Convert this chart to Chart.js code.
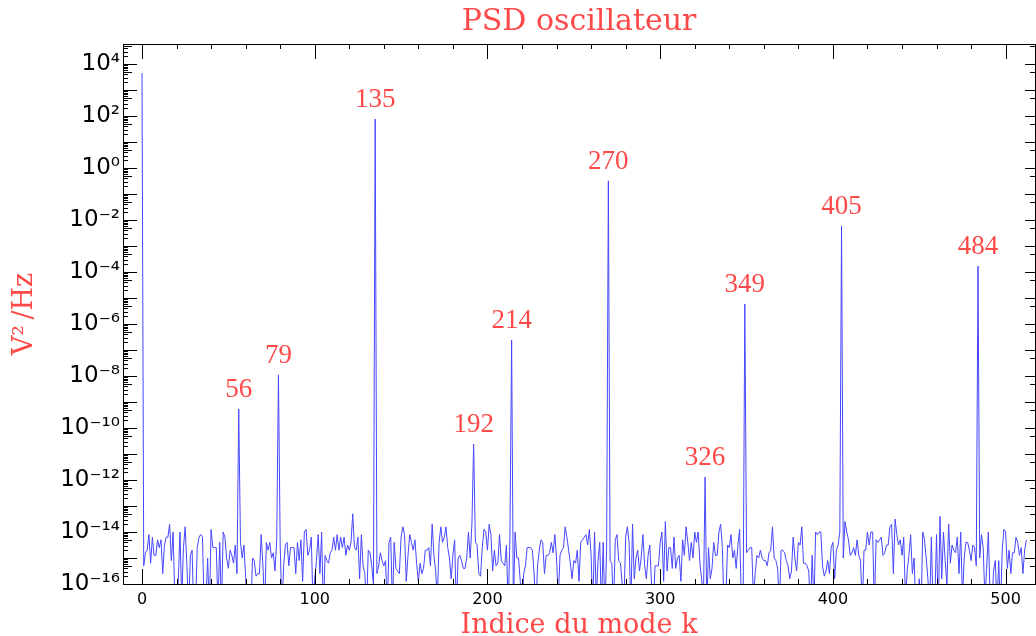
<!DOCTYPE html>
<html lang="fr">
  <head>
    <meta charset="UTF-8" />
    <title>PSD oscillateur</title>
    <script src="https://cdn.jsdelivr.net/npm/chart.js"></script>
    <style>
      html,
      body {
        margin: 0;
        padding: 0;
        background: #ffffff;
      }
      #psdChart {
        display: block;
      }
    </style>
  </head>
  <body>
    <canvas id="psdChart" width="1036" height="636"></canvas>

    <script>
      // Peaks: mode index k and PSD value (V^2/Hz)
      var peakK = [0, 56, 79, 135, 192, 214, 270, 326, 349, 405, 484];
      var peakVal = [4.5e3, 5.4e-10, 1.1e-8, 76, 2.4e-11, 2.4e-7, 0.32, 1.3e-12, 5.9e-6, 5.9e-3, 1.7e-4];
      var peakLabels = ["", "56", "79", "135", "192", "214", "270", "326", "349", "405", "484"];

      // Noise floor between the peaks, log10 of the PSD, k = 1..512 (peaks skipped)
      var noiseExp = [
        // k 1-55
        -15.3, -14.8, -14.7, -14.1, -15.2, -14.2, -14.9, -14.9, -14.3, -14.6,
        -14.3, -15.6, -14.5, -14.2, -14.2, -13.7, -15.1, -14.0, -16.6, -17.0,
        -15.9, -14.0, -16.6, -14.6, -13.8, -15.3, -17.0, -14.9, -14.7, -17.2,
        -16.8, -14.6, -14.2, -14.1, -14.2, -17.0, -16.7, -15.0, -17.1, -13.9,
        -14.6, -14.6, -14.6, -16.9, -14.4, -17.0, -14.0, -14.2, -15.0, -15.4,
        -14.7, -14.9, -15.2, -14.5, -15.6,
        // k 57-78
        -14.4, -15.0, -14.5, -15.7, -17.0, -16.6, -17.1, -15.0, -15.1, -15.7,
        -15.6, -15.6, -14.1, -15.3, -16.9, -14.4, -14.7, -14.4, -15.0, -14.8,
        -15.5, -14.3,
        // k 80-134
        -14.5, -17.0, -15.3, -14.5, -14.4, -15.3, -14.6, -14.6, -14.6, -15.6,
        -14.4, -15.1, -14.3, -15.9, -14.0, -13.9, -14.9, -14.7, -14.2, -16.8,
        -15.8, -15.1, -14.1, -15.6, -14.0, -17.1, -14.9, -15.1, -15.2, -14.8,
        -14.7, -14.2, -14.7, -14.1, -14.7, -14.2, -14.6, -14.2, -14.9, -14.5,
        -14.7, -14.4, -13.3, -14.6, -14.7, -14.2, -15.8, -14.1, -15.3, -15.6,
        -16.9, -14.7, -14.8, -15.3, -16.0,
        // k 136-191
        -15.6, -15.3, -14.8, -15.1, -15.3, -15.1, -17.0, -14.4, -14.2, -16.9,
        -14.4, -15.4, -15.5, -15.6, -14.2, -13.8, -14.1, -15.9, -14.9, -14.1,
        -14.4, -14.7, -14.3, -15.2, -15.9, -15.2, -15.6, -15.4, -14.7, -14.7,
        -14.6, -15.3, -13.7, -14.9, -15.5, -16.6, -14.4, -13.8, -14.4, -14.2,
        -13.8, -14.6, -15.0, -15.8, -14.9, -14.3, -17.0, -15.0, -14.9, -15.1,
        -15.4, -15.4, -15.0, -14.0, -15.0, -13.7,
        // k 193-213
        -14.4, -14.5, -15.6, -15.7, -14.6, -13.9, -14.0, -14.7, -13.7, -14.1,
        -15.5, -14.7, -15.3, -15.2, -14.1, -15.1, -15.2, -15.3, -14.5, -17.0,
        -14.2,
        // k 215-269
        -17.0, -14.0, -15.0, -15.0, -15.9, -16.8, -15.6, -15.3, -14.6, -14.6,
        -14.6, -14.7, -15.6, -17.1, -15.3, -14.7, -14.3, -14.4, -15.6, -14.9,
        -14.9, -14.8, -14.4, -14.8, -14.1, -15.0, -16.6, -14.9, -14.7, -14.6,
        -13.8, -14.2, -14.7, -15.2, -15.8, -15.1, -15.2, -14.7, -15.9, -14.4,
        -14.3, -14.2, -14.1, -14.5, -13.9, -14.9, -17.0, -14.0, -16.6, -15.1,
        -14.4, -16.9, -14.4, -17.2, -14.6,
        // k 271-325
        -15.1, -15.2, -17.0, -14.3, -14.1, -15.1, -15.2, -16.0, -16.8, -14.2,
        -13.8, -14.4, -16.9, -13.7, -15.8, -15.0, -14.7, -15.5, -15.0, -14.1,
        -15.3, -15.8, -14.9, -14.5, -16.0, -17.0, -15.3, -15.3, -15.3, -14.4,
        -14.0, -15.9, -13.6, -15.5, -14.6, -14.6, -15.4, -14.2, -15.4, -15.0,
        -14.9, -15.9, -14.3, -14.9, -13.8, -14.4, -15.1, -14.4, -15.0, -14.0,
        -14.4, -14.0, -15.2, -15.8, -16.8,
        // k 327-348
        -16.9, -14.6, -15.8, -15.4, -14.4, -14.9, -14.9, -14.0, -13.7, -14.6,
        -17.0, -16.7, -14.5, -14.6, -14.1, -15.0, -14.7, -15.4, -14.5, -13.9,
        -16.8, -17.1,
        // k 350-404
        -14.8, -14.7, -14.6, -14.6, -16.6, -15.6, -14.9, -15.0, -14.7, -15.0,
        -15.1, -15.1, -15.3, -14.8, -14.7, -13.8, -15.0, -15.1, -15.4, -16.9,
        -14.7, -14.7, -14.8, -15.1, -15.3, -15.8, -15.5, -14.2, -15.0, -15.5,
        -14.4, -14.5, -13.8, -15.2, -15.2, -15.3, -15.5, -17.0, -14.9, -16.8,
        -14.0, -14.1, -14.0, -14.0, -15.3, -15.7, -15.5, -15.1, -15.6, -14.6,
        -14.4, -15.8, -14.7, -14.5, -14.0,
        // k 406-483
        -15.0, -13.6, -14.0, -14.3, -14.9, -14.8, -14.6, -14.9, -14.3, -14.9,
        -15.1, -17.0, -14.7, -14.7, -14.0, -14.5, -14.0, -14.0, -16.9, -14.3,
        -14.4, -14.3, -14.2,
        -14.9, -14.8, -14.5, -14.5, -13.8, -13.7, -15.6, -13.5, -14.1, -14.5,
        -14.3, -14.9, -14.2, -16.6, -15.5, -14.9, -14.1, -15.6, -15.0, -17.0,
        -16.8, -15.8, -17.1, -14.0, -14.3, -15.0, -15.8, -16.9, -14.2, -17.0,
        -16.7, -14.1, -17.2, -13.4, -15.8, -14.0, -15.1, -16.0, -13.7, -15.2,
        -14.5, -14.7, -14.8, -14.2, -15.6, -14.0, -16.6, -15.0, -14.4, -14.4,
        -14.7, -15.1, -14.5, -14.6, -15.3,
        // k 485-512
        -15.0, -14.1, -14.6, -16.6, -15.4, -14.0, -16.6, -17.0, -15.5, -15.1,
        -16.9, -15.1, -17.1, -14.7, -13.9, -14.0, -15.4, -14.7, -15.6, -14.8,
        -14.8, -14.2, -14.4, -14.9, -14.6, -15.6, -14.7, -14.3
      ];

      var lastK = 512;
      var xTicks = [0, 100, 200, 300, 400, 500];
      var yTickExp = [-16, -14, -12, -10, -8, -6, -4, -2, 0, 2, 4];

      var red = "#ff4848";
      var blue = "#4646ff";

      // series: peak where there is one, noise floor elsewhere
      var points = [];
      var n = 0;
      for (var k = 0; k <= lastK; k++) {
        var p = peakK.indexOf(k);
        if (p >= 0) {
          points.push({ x: k, y: peakVal[p] });
        } else {
          points.push({ x: k, y: Math.pow(10, noiseExp[n]) });
          n++;
        }
      }

      var supDigits = { "-": "\u207B", 0: "\u2070", 1: "\u00B9", 2: "\u00B2", 3: "\u00B3", 4: "\u2074", 5: "\u2075", 6: "\u2076", 7: "\u2077", 8: "\u2078", 9: "\u2079" };
      function powLabel(v) {
        var e = String(Math.round(Math.log10(v)));
        return "10" + e.split("").map(function (c) { return supDigits[c]; }).join("");
      }

      // IDL style frame: ticks pointing inwards on all four sides, peak labels
      var idlAxes = {
        id: "idlAxes",
        afterDatasetsDraw: function (chart) {
          var ctx = chart.ctx;
          var a = chart.chartArea;
          var xs = chart.scales.x;
          var ys = chart.scales.y;
          ctx.save();
          ctx.strokeStyle = "#000";
          ctx.lineWidth = 1;
          ctx.strokeRect(a.left + 0.5, a.top + 0.5, a.right - a.left, a.bottom - a.top);

          ctx.beginPath();
          for (var k = 0; k <= xs.max; k += 20) {
            var px = Math.round(xs.getPixelForValue(k)) + 0.5;
            var big = k % 100 === 0;
            ctx.moveTo(px, a.bottom);
            ctx.lineTo(px, a.bottom - (big ? 15 : 5));
            ctx.moveTo(px, a.top);
            ctx.lineTo(px, a.top + (big ? 15 : 5));
          }
          for (var e = -16; e <= 4; e++) {
            for (var m = 1; m <= 9; m++) {
              var v = m * Math.pow(10, e);
              if (v < ys.min || v > ys.max) continue;
              var py = Math.round(ys.getPixelForValue(v)) + 0.5;
              ctx.moveTo(a.left, py);
              ctx.lineTo(a.left + (m === 1 ? 14 : m === 5 ? 9 : 5), py);
              if (m === 1 || m === 5) {
                ctx.moveTo(a.right, py);
                ctx.lineTo(a.right - (m === 1 ? 10 : 5), py);
              }
            }
          }
          ctx.stroke();

          ctx.fillStyle = red;
          ctx.font = "27px 'Liberation Serif'";
          ctx.textAlign = "center";
          ctx.textBaseline = "alphabetic";
          for (var i = 0; i < peakK.length; i++) {
            if (!peakLabels[i]) continue;
            ctx.fillText(peakLabels[i], xs.getPixelForValue(peakK[i]), ys.getPixelForValue(peakVal[i]) - 12);
          }
          ctx.restore();
        },
      };

      var ctx = document.getElementById("psdChart").getContext("2d");
      var psdChart = new Chart(ctx, {
        type: "line",
        data: {
          datasets: [
            {
              data: points,
              borderColor: blue,
              borderWidth: 1,
              pointRadius: 0,
              tension: 0,
              fill: false,
            },
          ],
        },
        options: {
          responsive: false,
          animation: false,
          devicePixelRatio: 1,
          layout: { padding: { left: 0, right: 1, top: 0, bottom: 0 } },
          plugins: {
            legend: { display: false },
            tooltip: { enabled: false },
            title: {
              display: true,
              text: "PSD oscillateur",
              color: red,
              fullSize: false,
              font: { family: "'DejaVu Serif'", size: 30, weight: "normal", lineHeight: 1.2 },
              padding: { top: 4, bottom: 4 },
            },
          },
          scales: {
            x: {
              type: "linear",
              min: -11,
              max: 517,
              grid: { display: false, drawTicks: false },
              border: { display: false },
              afterBuildTicks: function (scale) {
                scale.ticks = xTicks.map(function (t) { return { value: t }; });
              },
              afterFit: function (scale) {
                scale.height = 52;
              },
              ticks: {
                color: "#000",
                padding: 6,
                maxRotation: 0,
                autoSkip: false,
                font: { family: "'DejaVu Sans'", size: 16 },
              },
              title: {
                display: true,
                text: "Indice du mode k",
                color: red,
                font: { family: "'DejaVu Serif'", size: 27, lineHeight: 1 },
                padding: { top: 0, bottom: -3 },
              },
            },
            y: {
              type: "logarithmic",
              min: 1e-16,
              max: Math.pow(10, 4.77),
              grid: { display: false, drawTicks: false },
              border: { display: false },
              afterBuildTicks: function (scale) {
                scale.ticks = yTickExp.map(function (e) { return { value: Math.pow(10, e) }; });
              },
              afterFit: function (scale) {
                scale.width = 123;
              },
              ticks: {
                color: "#000",
                padding: 3,
                autoSkip: false,
                font: { family: "'DejaVu Sans'", size: 23 },
                callback: function (value) {
                  return powLabel(value);
                },
              },
              title: {
                display: true,
                text: "V\u00B2\u2009/Hz",
                color: red,
                font: { family: "'DejaVu Serif'", size: 27, lineHeight: 1 },
                padding: { top: 11, bottom: 0 },
              },
            },
          },
        },
        plugins: [idlAxes],
      });
    </script>
  </body>
</html>
